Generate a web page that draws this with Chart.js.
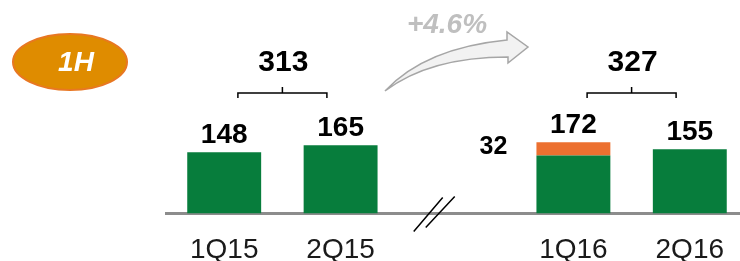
<!DOCTYPE html>
<html>
<head>
<meta charset="utf-8">
<script src="https://cdn.jsdelivr.net/npm/chart.js@4.4.1/dist/chart.umd.min.js"></script>
<style>
  html, body { margin: 0; padding: 0; background: #fff; overflow: hidden; }
  #wrap { width: 750px; height: 261px; position: relative; }
</style>
</head>
<body>
<div id="wrap"><canvas id="chart"></canvas></div>
<script>
// --- Data ---
const categories = ['1Q15', '2Q15', '', '1Q16', '2Q16'];
const baseValues = [148, 165, null, 140, 155];
const addedValues = [null, null, null, 32, null];
const barTotals = [148, 165, null, 172, 155];
const halfYearTotals = [313, 327];
const halfYearGroups = [[0, 1], [3, 4]];
const growthText = '+4.6%';
const badgeText = '1H';

const FONT = '"Liberation Sans", Arial, sans-serif';
const GREEN = '#077d3c';
const ORANGE = '#ec7030';

// --- Decorations: labels, braces, arrow, badge, axis break ---
const decorations = {
    id: 'decorations',
    afterDatasetsDraw(chart) {
        const ctx = chart.ctx;
        const x = chart.scales.x;
        const baseMeta = chart.getDatasetMeta(0);
        const addMeta = chart.getDatasetMeta(1);

        ctx.save();
        ctx.textAlign = 'center';
        ctx.textBaseline = 'alphabetic';
        ctx.fillStyle = '#000';

        // bar total labels
        barTotals.forEach((v, i) => {
            if (v == null) return;
            const top = addedValues[i] != null ? addMeta.data[i].y : baseMeta.data[i].y;
            ctx.font = 'bold 28px ' + FONT;
            ctx.fillText(String(v), baseMeta.data[i].x, top - 9);
        });

        // added segment label, left of the bar
        addedValues.forEach((v, i) => {
            if (v == null) return;
            const el = addMeta.data[i];
            ctx.font = 'bold 25px ' + FONT;
            ctx.textBaseline = 'middle';
            ctx.fillText(String(v), el.x - 80, (el.y + el.base) / 2 - 2);
            ctx.textBaseline = 'alphabetic';
        });

        // braces with half-year totals
        ctx.strokeStyle = '#000';
        ctx.lineWidth = 1.5;
        halfYearGroups.forEach((g, k) => {
            const cx = x.getPixelForValue((g[0] + g[1]) / 2);
            const half = 44.5;
            const y = 93;
            ctx.beginPath();
            ctx.moveTo(cx - half, y + 5);
            ctx.lineTo(cx - half, y);
            ctx.lineTo(cx + half, y);
            ctx.lineTo(cx + half, y + 5);
            ctx.moveTo(cx, y);
            ctx.lineTo(cx, y - 6);
            ctx.stroke();
            ctx.font = 'bold 30px ' + FONT;
            ctx.textBaseline = 'middle';
            ctx.fillText(String(halfYearTotals[k]), cx + 1, 63);
            ctx.textBaseline = 'alphabetic';
        });

        // axis break
        const bx = x.getPixelForValue(1.8);
        const by = chart.chartArea.bottom;
        ctx.lineWidth = 1.5;
        ctx.beginPath();
        ctx.moveTo(bx - 20, by + 18);
        ctx.lineTo(bx + 9, by - 16);
        ctx.moveTo(bx - 8, by + 14);
        ctx.lineTo(bx + 21, by - 17);
        ctx.stroke();

        // growth arrow
        ctx.beginPath();
        ctx.moveTo(385, 91);
        ctx.quadraticCurveTo(425, 48, 507, 40);
        ctx.lineTo(507, 32);
        ctx.lineTo(528, 47);
        ctx.lineTo(508, 63);
        ctx.lineTo(508, 57);
        ctx.quadraticCurveTo(430, 57, 385, 91);
        ctx.closePath();
        ctx.fillStyle = '#f2f2f2';
        ctx.fill();
        ctx.strokeStyle = '#a6a6a6';
        ctx.lineWidth = 1.5;
        ctx.stroke();

        ctx.fillStyle = '#bfbfbf';
        ctx.font = 'italic bold 28px ' + FONT;
        ctx.textBaseline = 'middle';
        ctx.fillText(growthText, 447, 25);

        // badge
        ctx.beginPath();
        ctx.ellipse(70, 62, 57, 28, 0, 0, Math.PI * 2);
        ctx.fillStyle = '#df8c00';
        ctx.fill();
        ctx.strokeStyle = '#e87722';
        ctx.lineWidth = 2;
        ctx.stroke();
        ctx.fillStyle = '#fff';
        ctx.font = 'italic bold 28px ' + FONT;
        ctx.fillText(badgeText, 76, 63);

        ctx.restore();
    }
};

new Chart(document.getElementById('chart'), {
    type: 'bar',
    data: {
        labels: categories,
        datasets: [
            { data: baseValues, backgroundColor: GREEN, stack: 's' },
            { data: addedValues, backgroundColor: ORANGE, stack: 's' }
        ]
    },
    options: {
        responsive: true,
        maintainAspectRatio: false,
        animation: false,
        layout: { padding: { left: 166, right: 2, top: 0, bottom: -26 } },
        datasets: { bar: { barPercentage: 0.635, categoryPercentage: 1 } },
        plugins: { legend: { display: false }, tooltip: { enabled: false } },
        scales: {
            x: {
                stacked: true,
                grid: { display: false, drawTicks: false },
                border: { display: true, color: '#8c8c8c', width: 3 },
                ticks: { color: '#1a1a1a', font: { family: FONT, size: 28 }, padding: 20 }
            },
            y: {
                stacked: true,
                display: false,
                min: 0,
                max: 516
            }
        }
    },
    plugins: [decorations]
});
</script>
</body>
</html>
